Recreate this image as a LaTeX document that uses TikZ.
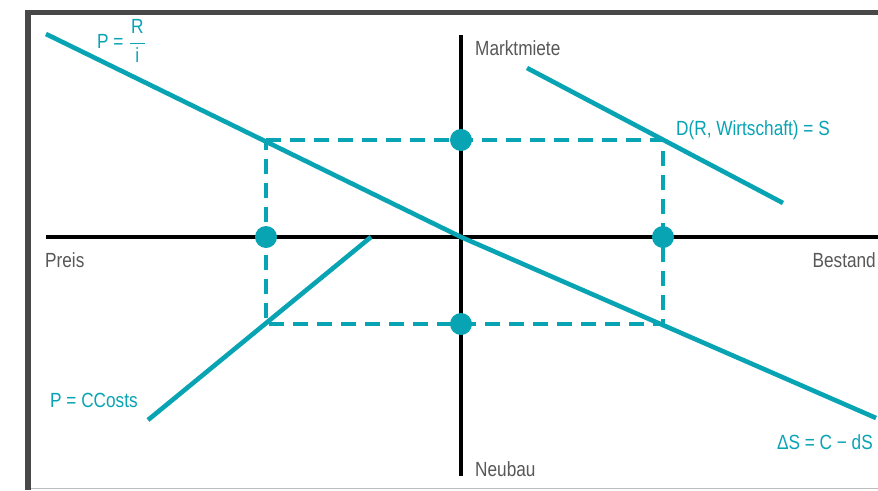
\documentclass[tikz,border=0pt]{standalone}
\usepackage{fontspec}
\setmainfont[FakeStretch=0.84]{Liberation Sans}
\usetikzlibrary{calc}
\definecolor{teal1}{RGB}{8,164,180}
\definecolor{txtgray}{RGB}{88,88,88}
\definecolor{framegray}{RGB}{72,72,72}
\definecolor{lightgray1}{RGB}{190,190,190}
\tikzset{
  axis/.style={line width=4.2pt, black},
  curve/.style={line width=4.6pt, teal1},
  dashbox/.style={line width=3.8pt, teal1, dash pattern=on 15pt off 9pt},
  dot/.style={circle, fill=teal1, inner sep=0pt, minimum size=22pt},
  lbl/.style={inner sep=0pt, font=\fontsize{20.5}{23}\selectfont},
  grayl/.style={lbl, text=txtgray},
  teall/.style={lbl, text=teal1},
}
\begin{document}
\begin{tikzpicture}[x=1pt,y=-1pt]
\useasboundingbox (0,0) rectangle (878,490);
\fill[white] (0,0) rectangle (878,490);
% frame
\fill[framegray] (25,10) rectangle (31,490);
\fill[framegray] (25,10) rectangle (878,15);
\draw[lightgray1, line width=1.2pt] (31,488.5) -- (878,488.5);
% coordinates
\coordinate (O) at (461,237);
\coordinate (xl) at (46,237);
\coordinate (xr) at (878,237);
\coordinate (yt) at (461,35);
\coordinate (yb) at (461,476);
\coordinate (c1) at (266,140);
\coordinate (c2) at (663,140);
\coordinate (c3) at (663,324);
\coordinate (c4) at (266,324);
\coordinate (pa) at (46,34);
\coordinate (pb) at (876,418);
\coordinate (da) at (527,68);
\coordinate (db) at (783,203);
\coordinate (ca) at (148,420);
\coordinate (cb) at (371,237);
% dashed box
\draw[dashbox] (c1) -- (c2) -- (c3) -- (c4) -- cycle;
% axes
\draw[axis] (xl) -- (xr);
\draw[axis] (yt) -- (yb);
% teal lines
\draw[curve] (pa) -- (O) -- (pb);
\draw[curve] (da) -- (db);
\draw[curve] (ca) -- (cb);
% dots
\node[dot] (d1) at (461,140) {};
\node[dot] (d2) at (266,237) {};
\node[dot] (d3) at (663,237) {};
\node[dot] (d4) at (461,324) {};
% labels
\node[grayl, anchor=base west] (mm) at (475,55) {Marktmiete};
\node[grayl, anchor=base west] (nb) at (475,476) {Neubau};
\node[grayl, anchor=base west] (pr) at (45,267) {Preis};
\node[grayl, anchor=base east] (bs) at (876,267) {Bestand};
\node[teall, anchor=base west] (ld) at (676,135) {D(R, Wirtschaft) = S};
\node[teall, anchor=base west] (lc) at (50,407) {P = CCosts};
\node[teall, anchor=base east] (ls) at (873,449) {ΔS = C − dS};
\node[teall, anchor=base west] (lp) at (97,48) {P = $\displaystyle\frac{\mbox{\kern1.5pt R\kern1.5pt}}{\mbox{i}}$};
\end{tikzpicture}
\end{document}
